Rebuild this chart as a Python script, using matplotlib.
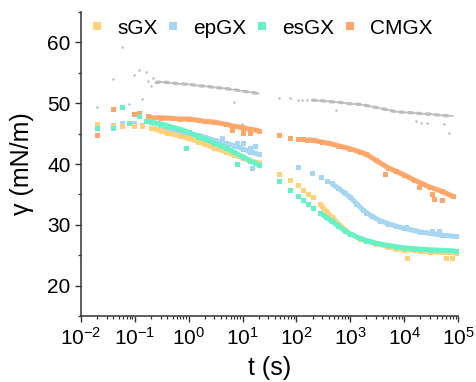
import matplotlib
matplotlib.use("Agg")
import matplotlib.pyplot as plt
from matplotlib.lines import Line2D
from matplotlib.ticker import LogLocator, MultipleLocator, LogFormatterSciNotation, NullFormatter

plt.rcParams["font.family"] = ["Liberation Sans", "DejaVu Sans"]
plt.rcParams["mathtext.fontset"] = "custom"
plt.rcParams["mathtext.rm"] = "Liberation Sans"
plt.rcParams["mathtext.it"] = "Liberation Sans:italic"

# ---- data: t in s, gamma in mN/m ----
# sGX
sgx_t = [0.02, 0.039, 0.057, 0.096, 0.134, 48, 77, 105, 135, 166, 205, 11500, 60000, 77000]
sgx_g = [46.6, 46.2, 46.3, 46.3, 46.2, 38.3, 37.4, 36.5, 35.7, 35.0, 34.5, 24.5, 24.5, 24.6]
sgx_t1 = [0.2, 0.3, 0.4, 0.7, 1, 1.5, 2, 3, 5, 7, 10, 14, 20]
sgx_g1 = [45.9, 45.5, 45.1, 44.6, 44.2, 43.7, 43.3, 42.6, 42.0, 41.5, 41.0, 40.5, 40.2]
sgx_t2 = [270, 350, 450, 600, 800, 1000, 1500, 2000, 3000, 5000, 7000, 1e4, 1.5e4, 2e4, 3e4, 5e4, 9e4]
sgx_g2 = [33.5, 32.3, 31.3, 30.2, 29.2, 28.5, 27.7, 27.3, 26.9, 26.4, 26.1, 25.9, 25.8, 25.7, 25.6, 25.5, 25.4]

# epGX
ep_t = [0.02, 0.039, 0.057, 0.096, 0.134, 4.1, 7.8, 10, 13.5, 14.8, 17, 105, 196, 280, 370, 11000, 33000, 45000]
ep_g = [46.3, 46.4, 46.8, 46.7, 46.4, 44.3, 43.5, 43.5, 42.6, 39.3, 43.0, 39.5, 38.5, 37.9, 37.2, 29.7, 28.9, 28.9]
ep_t1 = [0.2, 0.3, 0.4, 0.7, 1, 1.5, 2, 3, 5, 7, 10, 14, 20]
ep_g1 = [46.0, 45.7, 45.5, 45.2, 45.0, 44.7, 44.4, 43.9, 43.4, 43.0, 42.5, 42.0, 41.6]
ep_t2 = [450, 600, 800, 1000, 1300, 1700, 2000, 2500, 3500, 5000, 7000, 1e4, 1.5e4, 2e4, 3e4, 5e4, 9e4]
ep_g2 = [36.8, 36.0, 35.2, 34.5, 33.5, 32.5, 32.0, 31.4, 30.7, 30.2, 29.8, 29.4, 29.1, 28.8, 28.6, 28.3, 28.1]

# esGX
es_t = [0.02, 0.039, 0.057, 0.077, 0.118, 0.88, 7.8, 48, 77, 105, 135, 166, 205]
es_g = [45.9, 46.0, 49.3, 46.8, 47.9, 42.6, 40.0, 37.2, 35.7, 34.7, 34.0, 33.4, 32.7]
es_t1 = [0.16, 0.2, 0.3, 0.4, 0.7, 1, 1.5, 2, 3, 5, 7, 10, 14, 20]
es_g1 = [47.1, 46.9, 46.6, 46.3, 45.7, 45.2, 44.5, 44.1, 43.4, 42.6, 41.9, 41.2, 40.5, 39.8]
es_t2 = [270, 350, 450, 600, 800, 1000, 1500, 2000, 3000, 5000, 7000, 1e4, 1.5e4, 2e4, 3e4, 5e4, 9e4]
es_g2 = [32.0, 31.3, 30.6, 29.8, 29.0, 28.5, 27.8, 27.4, 27.0, 26.6, 26.4, 26.2, 26.1, 26.0, 25.9, 25.8, 25.7]

# CMGX
cm_t = [0.02, 0.039, 0.096, 0.118, 0.174, 6.5, 10, 13.5, 48, 77, 105, 135, 4500, 19000, 33000, 36000, 50000]
cm_g = [44.8, 49.1, 48.3, 48.4, 47.9, 45.6, 45.1, 45.1, 44.8, 44.3, 44.1, 44.1, 38.3, 36.2, 35.0, 34.2, 34.0]
cm_t1 = [0.2, 0.3, 0.5, 0.7, 1, 1.5, 2, 3, 5, 7, 10, 14, 20]
cm_g1 = [47.6, 47.6, 47.5, 47.4, 47.4, 47.2, 47.0, 46.9, 46.5, 46.2, 46.0, 45.7, 45.5]
cm_t2 = [160, 200, 300, 400, 600, 1000, 1500, 2000, 3000, 5000, 7000, 1e4, 1.5e4, 2e4, 3e4, 5e4, 8e4]
cm_g2 = [44.0, 43.9, 43.6, 43.4, 43.0, 42.5, 42.0, 41.6, 40.6, 39.4, 38.8, 38.2, 37.4, 36.9, 36.2, 35.5, 34.7]

# unlabelled grey series
gr_t = [0.02, 0.039, 0.057, 0.077, 0.096, 0.118, 0.134, 0.16, 0.174, 0.198, 0.216, 6.8, 9.6,
        48, 77, 105, 129, 160, 550, 16600, 20500, 26700, 55000, 68000]
gr_g = [49.4, 54.0, 59.2, 49.9, 54.7, 55.5, 50.7, 55.2, 53.7, 52.9, 54.2, 50.2, 46.6,
        50.9, 50.9, 50.6, 50.6, 50.6, 48.9, 47.1, 46.8, 46.8, 46.6, 45.1]
gr_t1 = [0.25, 0.3, 0.4, 0.5, 0.7, 1, 1.5, 2, 3, 4, 5, 7, 10, 14, 20]
gr_g1 = [53.4, 53.5, 53.4, 53.3, 53.2, 53.1, 52.9, 52.8, 52.6, 52.5, 52.4, 52.2, 52.0, 51.8, 51.6]
gr_t2 = [200, 300, 500, 700, 1000, 1500, 2000, 3000, 5000, 7000, 1e4, 1.5e4, 2e4, 3e4, 5e4, 8e4]
gr_g2 = [50.5, 50.4, 50.2, 50.1, 49.9, 49.8, 49.6, 49.3, 48.9, 48.6, 48.5, 48.4, 48.3, 48.2, 48.0, 47.9]

COLORS = {
    "sGX": "#FFD27A",
    "epGX": "#A6D6F2",
    "esGX": "#66F2C6",
    "CMGX": "#FFA66B",
    "grey": "#BDBDBD",
}

fig = plt.figure(figsize=(4.77, 3.82), dpi=100)
ax = fig.add_axes([81 / 477, 66 / 382, 377 / 477, 304 / 382])


def draw(color, pts, bands, ms=3.6, lw=3.6):
    t, g = pts
    ax.plot(t, g, "s", color=color, ms=ms, mew=0, ls="none")
    for bt, bg in bands:
        ax.plot(bt, bg, "-s", color=color, ms=ms, mew=0, lw=lw, solid_capstyle="butt")


# grey one is drawn with small dots
ax.plot(gr_t, gr_g, "o", color=COLORS["grey"], ms=1.8, mew=0)
for bt, bg in [(gr_t1, gr_g1), (gr_t2, gr_g2)]:
    ax.plot(bt, bg, ":", color=COLORS["grey"], lw=2.4, dash_capstyle="round")
    ax.plot(bt, bg, "-", color=COLORS["grey"], lw=1.2)

draw(COLORS["CMGX"], (cm_t, cm_g), [(cm_t1, cm_g1), (cm_t2, cm_g2)])
draw(COLORS["epGX"], (ep_t, ep_g), [(ep_t1, ep_g1), (ep_t2, ep_g2)])
draw(COLORS["sGX"], (sgx_t, sgx_g), [(sgx_t1, sgx_g1), (sgx_t2, sgx_g2)])
draw(COLORS["esGX"], (es_t, es_g), [(es_t1, es_g1), (es_t2, es_g2)])

ax.set_xscale("log")
ax.set_xlim(1e-2, 1e5)
ax.set_ylim(15, 65)
ax.set_yticks([20, 30, 40, 50, 60])
ax.yaxis.set_minor_locator(MultipleLocator(5))
ax.xaxis.set_major_locator(LogLocator(base=10, numticks=20))
ax.xaxis.set_major_formatter(LogFormatterSciNotation())
ax.xaxis.set_minor_locator(LogLocator(base=10, subs=range(2, 10), numticks=20))
ax.xaxis.set_minor_formatter(NullFormatter())

for side in ["top", "right"]:
    ax.spines[side].set_visible(False)
for side in ["left", "bottom"]:
    ax.spines[side].set_linewidth(1.1)
    ax.spines[side].set_color("#333333")

ax.tick_params(which="major", direction="out", length=4.5, width=1.0, labelsize=15, pad=3, colors="#333333", labelcolor="black")
ax.tick_params(which="minor", direction="out", length=2.5, width=0.9, colors="#333333")

ax.set_xlabel("t (s)", fontsize=18)
ax.set_ylabel("γ (mN/m)", fontsize=18)
ax.xaxis.set_label_coords(0.5, -0.13)
ax.yaxis.set_label_coords(-0.125, 0.5)

handles = [Line2D([], [], marker="s", ls="none", color=COLORS[k], ms=5.2, mew=0)
           for k in ["sGX", "epGX", "esGX", "CMGX"]]
ax.legend(handles, ["sGX", "epGX", "esGX", "CMGX"], loc="upper left", ncol=4,
          bbox_to_anchor=(0.01, 0.985), frameon=False, fontsize=15,
          handlelength=1.0, handletextpad=0.46, columnspacing=0.25,
          borderaxespad=0, borderpad=0.1)

fig.savefig("out.png", dpi=100)
